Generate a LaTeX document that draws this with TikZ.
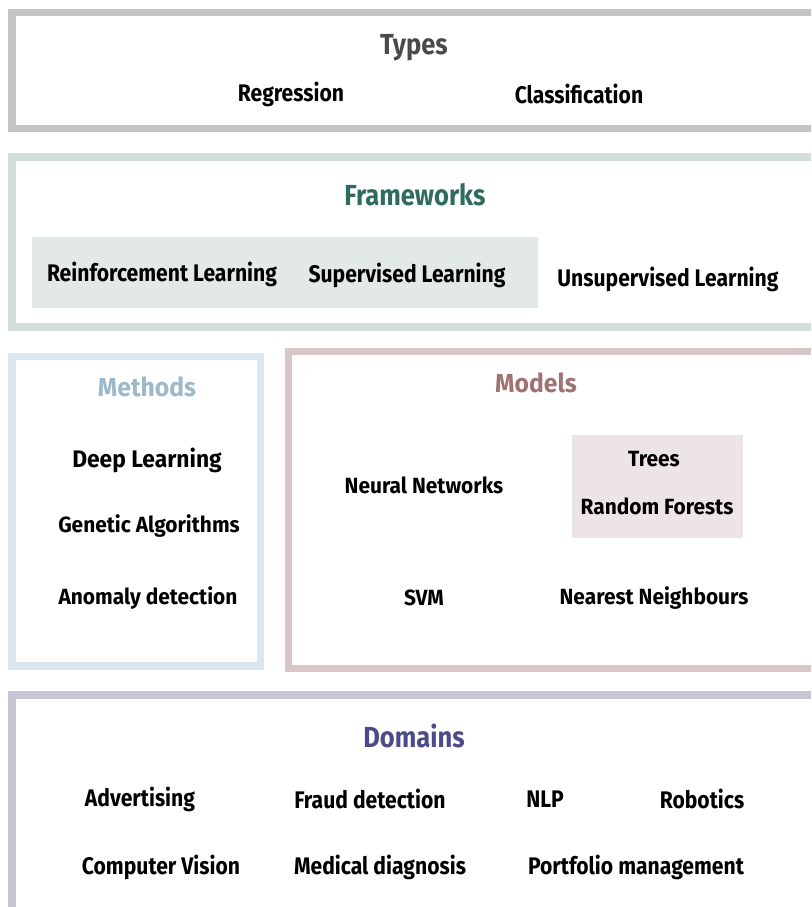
\documentclass[tikz,border=0pt]{standalone}
\usepackage{fontspec}
\setmainfont{Fira Sans}
\newfontfamily\condf[FakeStretch=0.88]{Fira Sans}
\newfontfamily\widef[FakeStretch=0.95]{Fira Sans}
\definecolor{typesB}{HTML}{C4C4C4}
\definecolor{frameB}{HTML}{D2DEDB}
\definecolor{methB}{HTML}{DCE6EE}
\definecolor{modB}{HTML}{D9C7C7}
\definecolor{domB}{HTML}{C6C6D6}
\definecolor{frameF}{HTML}{E3E9E7}
\definecolor{modF}{HTML}{EDE4E5}
\definecolor{typesT}{HTML}{4A4A4A}
\definecolor{frameT}{HTML}{2F6B5F}
\definecolor{methT}{HTML}{9DB9C9}
\definecolor{modT}{HTML}{A07272}
\definecolor{domT}{HTML}{4B4B8C}
\tikzset{
  frame/.style={line width=7.5pt},
  item/.style={font=\condf\bfseries\fontsize{24}{26}\selectfont, inner sep=0pt, text=black},
  witem/.style={font=\widef\bfseries\fontsize{22}{24}\selectfont, inner sep=0pt, text=black},
  bigwitem/.style={font=\widef\bfseries\fontsize{24}{26}\selectfont, inner sep=0pt, text=black},
  title/.style={font=\condf\bfseries\fontsize{29}{31}\selectfont, inner sep=0pt},
  wtitle/.style={font=\widef\bfseries\fontsize{26}{28}\selectfont, inner sep=0pt}
}
\begin{document}
\begin{tikzpicture}[x=1pt,y=-1pt]
\clip (0,0) rectangle (811,907);
\fill[white] (0,0) rectangle (811,907);
% frames
\draw[frame, typesB] (12,12.5) rectangle (830,128.5);
\draw[frame, frameB] (12,157) rectangle (830,327);
\fill[frameF] (32,237) rectangle (538,308);
\draw[frame, methB] (12,356.5) rectangle (260.5,666);
\draw[frame, modB] (288.5,351.5) rectangle (830,668.5);
\fill[modF] (572,435) rectangle (743,538);
\draw[frame, domB] (12,695) rectangle (830,930);
% Types
\node[title, text=typesT] (types) at (414,48) {Types};
\node[item] (regr) at (291,94) {Regression};
\node[item] (class) at (579,94) {Classification};
% Frameworks
\node[title, text=frameT] (frameworks) at (415,195) {Frameworks};
\node[item] (rl) at (162,274) {Reinforcement Learning};
\node[item] (sl) at (407,275) {Supervised Learning};
\node[item] (ul) at (668,279) {Unsupervised Learning};
% Methods
\node[wtitle, text=methT] (methods) at (147,387) {Methods};
\node[bigwitem] (dl) at (147,460) {Deep Learning};
\node[witem] (ga) at (149,526) {Genetic Algorithms};
\node[witem] (ad) at (148,598) {Anomaly detection};
% Models
\node[wtitle, text=modT] (models) at (536,383) {Models};
\node[witem] (nn) at (424,485) {Neural Networks};
\node[witem] (trees) at (654,459) {Trees};
\node[witem] (rf) at (657,506) {Random Forests};
\node[witem] (svm) at (424,598) {SVM};
\node[witem] (knn) at (654,598) {Nearest Neighbours};
% Domains
\node[title, text=domT] (domains) at (414,736) {Domains};
\node[item] (adv) at (140,799) {Advertising};
\node[item] (fraud) at (370,799) {Fraud detection};
\node[item] (nlp) at (545,799) {NLP};
\node[item] (rob) at (702,799) {Robotics};
\node[item] (cv) at (161,867) {Computer Vision};
\node[item] (med) at (380,867) {Medical diagnosis};
\node[item] (port) at (636,867) {Portfolio management};
\end{tikzpicture}
\end{document}
